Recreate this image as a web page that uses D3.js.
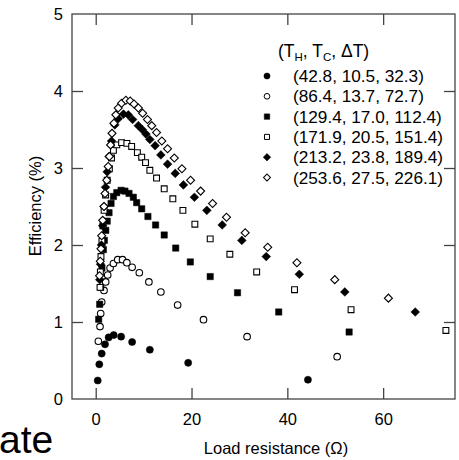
<!DOCTYPE html>
<html><head><meta charset="utf-8">
<script src="https://cdn.jsdelivr.net/npm/d3@7"></script>
<style>body{margin:0;background:#fff}svg{display:block}text{font-family:"Liberation Sans",Arial,sans-serif}</style>
</head><body><svg id="c" width="459" height="460"></svg>
<script>
const xTicks=[0,20,40,60];
const yTicks=[0,1,2,3,4,5];
const legendLabels=["(42.8, 10.5, 32.3)","(86.4, 13.7, 72.7)","(129.4, 17.0, 112.4)","(171.9, 20.5, 151.4)","(213.2, 23.8, 189.4)","(253.6, 27.5, 226.1)"];
const r1=[0.42,0.75,1.25,1.94,2.7,3.75,5.3,7.6,11.3,19.3,44.3];
const e1=[0.24,0.45,0.59,0.71,0.80,0.83,0.81,0.74,0.64,0.47,0.25];
const r2=[0.55,0.9,1.04,1.25,1.73,2.08,2.5,3.0,3.7,4.6,5.6,6.5,7.6,9.1,11.1,13.6,17.1,22.5,31.6,50.4];
const e2=[0.75,0.94,1.11,1.26,1.41,1.52,1.61,1.70,1.76,1.81,1.81,1.77,1.71,1.64,1.52,1.39,1.22,1.03,0.81,0.55];
const r3=[0.62,0.83,1.05,1.3,1.6,1.8,2.1,2.4,2.78,3.2,3.7,4.4,5.3,6.1,6.95,7.85,8.55,9.6,10.9,12.5,14.3,16.7,19.75,23.9,29.6,38.2,52.9];
const e3=[1.035,1.23,1.45,1.7,1.94,2.06,2.19,2.31,2.42,2.54,2.63,2.68,2.71,2.70,2.67,2.62,2.55,2.47,2.37,2.26,2.13,1.96,1.78,1.59,1.38,1.13,0.87];
const r4=[0.9,0.97,1.1,1.3,1.5,1.75,2.05,2.4,2.85,3.3,3.7,4.4,5.4,6.5,7.5,8.7,9.6,10.4,11.3,12.7,14.3,16.1,18.2,20.7,23.9,28.0,33.6,41.5,53.3,73.1];
const e4=[1.45,1.65,1.85,2.05,2.25,2.45,2.65,2.84,2.99,3.13,3.23,3.30,3.33,3.32,3.28,3.20,3.14,3.07,2.97,2.87,2.73,2.60,2.45,2.27,2.08,1.88,1.65,1.42,1.16,0.89];
const r5=[0.85,1.0,1.2,1.45,1.75,2.05,2.4,2.8,3.3,4.0,4.7,5.8,6.8,7.7,8.9,9.7,10.5,11.3,12.4,13.6,15.0,16.6,18.3,20.6,23.2,26.4,30.5,35.6,42.5,52.0,66.7];
const e5=[1.55,1.75,2.0,2.25,2.5,2.75,2.95,3.15,3.35,3.56,3.64,3.70,3.69,3.63,3.55,3.50,3.44,3.37,3.29,3.17,3.05,2.93,2.78,2.62,2.45,2.26,2.06,1.85,1.62,1.39,1.13];
const r6=[0.8,0.95,1.1,1.25,1.46,1.73,1.94,2.3,2.6,2.85,3.1,3.4,3.8,4.2,4.7,5.4,6.3,7.2,8.0,8.9,9.8,10.8,11.7,12.7,13.8,15.0,16.4,18.0,19.8,21.9,24.4,27.3,31.2,35.9,42.0,49.9,61.1];
const e6=[1.6,1.79,1.95,2.12,2.32,2.50,2.67,2.84,3.02,3.15,3.30,3.45,3.58,3.69,3.78,3.84,3.88,3.87,3.83,3.78,3.71,3.63,3.55,3.46,3.35,3.25,3.13,2.99,2.84,2.70,2.54,2.36,2.16,1.97,1.77,1.55,1.31];

const series=[[r1,e1],[r2,e2],[r3,e3],[r4,e4],[r5,e5],[r6,e6]];
const styles=[
 {type:d3.symbolCircle,size:40,fill:"#000",rot:0},
 {type:d3.symbolCircle,size:34,fill:"#fff",rot:0},
 {type:d3.symbolSquare,size:40,fill:"#000",rot:0},
 {type:d3.symbolSquare,size:34,fill:"#fff",rot:0},
 {type:d3.symbolSquare,size:38,fill:"#000",rot:45},
 {type:d3.symbolSquare,size:32,fill:"#fff",rot:45}
];
const L=72,R=455,T=14,B=399;
const svg=d3.select("#c");
const x=d3.scaleLinear().domain([-4.95,75]).range([L,R]);
const y=d3.scaleLinear().domain([0,5]).range([B,T]);
const axColor="#444";
svg.append("rect").attr("x",L).attr("y",T).attr("width",R-L).attr("height",B-T).attr("fill","none").attr("stroke",axColor).attr("stroke-width",1.3);
const tl=11;
const gb=svg.append("g").attr("transform",`translate(0,${B})`).call(d3.axisBottom(x).tickValues(xTicks).tickSize(-tl).tickPadding(14).tickFormat(d3.format("d")));
const gt=svg.append("g").attr("transform",`translate(0,${T})`).call(d3.axisTop(x).tickValues(xTicks).tickSize(-tl).tickFormat(""));
const gl=svg.append("g").attr("transform",`translate(${L},0)`).call(d3.axisLeft(y).tickValues(yTicks.slice(1,5)).tickSize(-tl).tickFormat(""));
const gr=svg.append("g").attr("transform",`translate(${R},0)`).call(d3.axisRight(y).tickValues(yTicks.slice(1,5)).tickSize(-tl).tickFormat(""));
[gb,gt,gl,gr].forEach(g=>{g.select(".domain").remove();g.selectAll("line").attr("stroke",axColor).attr("stroke-width",1.3);});
gb.selectAll("text").attr("font-size",16.5).attr("fill","#000").attr("font-family","Liberation Sans, Arial, sans-serif");
svg.append("g").selectAll("text").data(yTicks).join("text")
 .attr("x",L-9).attr("y",d=>y(d)).attr("dy","0.36em").attr("text-anchor","end").attr("font-size",16.5).text(d=>d);
svg.append("text").attr("x",276).attr("y",454).attr("text-anchor","middle").attr("font-size",16.5).text("Load resistance (Ω)");
svg.append("text").attr("transform","translate(41,206) rotate(-90)").attr("text-anchor","middle").attr("font-size",16.5).text("Efficiency (%)");
svg.append("text").attr("x",-1).attr("y",453).attr("font-size",39).text("ate");
const sym=(s)=>d3.symbol().type(s.type).size(s.size)();
series.forEach((sr,i)=>{
 const st=styles[i];
 const pts=sr[0].map((r,j)=>[r,sr[1][j]]);
 svg.append("g").selectAll("path").data(pts).join("path")
  .attr("d",sym(st))
  .attr("transform",d=>`translate(${x(d[0])},${y(d[1])}) rotate(${st.rot})`)
  .attr("fill",st.fill).attr("stroke","#000").attr("stroke-width",st.fill==="#000"?0.5:1.1);
});
const lg=svg.append("g");
const tt=lg.append("text").attr("x",278).attr("y",57).attr("font-size",17.5);
tt.append("tspan").text("(T");
tt.append("tspan").attr("font-size",11.5).attr("dy",4).text("H");
tt.append("tspan").attr("dy",-4).text(", T");
tt.append("tspan").attr("font-size",11.5).attr("dy",4).text("C");
tt.append("tspan").attr("dy",-4).text(", ΔT)");
legendLabels.forEach((lab,i)=>{
 const cy=76+i*20.3;
 const st=styles[i];
 lg.append("path").attr("d",d3.symbol().type(st.type).size(st.size*0.75)()).attr("transform",`translate(267,${cy}) rotate(${st.rot})`)
  .attr("fill",st.fill).attr("stroke","#000").attr("stroke-width",st.fill==="#000"?0.5:1);
 lg.append("text").attr("x",293).attr("y",cy).attr("dy","0.36em").attr("font-size",17.2).text(lab);
});
</script></body></html>
